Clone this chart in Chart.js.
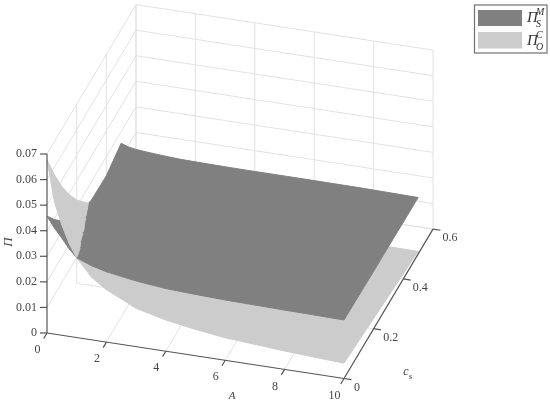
<!DOCTYPE html>
<html>
<head>
<meta charset="utf-8">
<title>Profit surfaces</title>
<script src="https://cdn.jsdelivr.net/npm/chart.js@4"></script>
<style>
  html, body { margin: 0; padding: 0; background: #fff; }
  canvas { display: block; }
</style>
</head>
<body>
<canvas id="surface-chart" width="550" height="408"></canvas>
<script>
// Grid the two surfaces were read on
const aValues = [0, 0.25, 0.5, 0.75, 1, 1.5, 2, 3, 4, 5, 6, 8, 10];
const csValues = [0, 0.05, 0.1, 0.15, 0.2, 0.3, 0.4, 0.5];

// Pi_S^M, one row per cs value
const piSM = [
  [0.0457, 0.0415, 0.0380, 0.0342, 0.0312, 0.0290, 0.0275, 0.0257, 0.0245, 0.0240, 0.0236, 0.0232, 0.0229],
  [0.0395, 0.0365, 0.0335, 0.0288, 0.0270, 0.0266, 0.0261, 0.0251, 0.0241, 0.0237, 0.0234, 0.0230, 0.0228],
  [0.0340, 0.0322, 0.0282, 0.0258, 0.0254, 0.0252, 0.0250, 0.0243, 0.0238, 0.0234, 0.0232, 0.0229, 0.0227],
  [0.0300, 0.0280, 0.0258, 0.0250, 0.0248, 0.0247, 0.0245, 0.0239, 0.0235, 0.0232, 0.0230, 0.0228, 0.0226],
  [0.0265, 0.0252, 0.0248, 0.0246, 0.0245, 0.0243, 0.0240, 0.0235, 0.0232, 0.0230, 0.0229, 0.0227, 0.0225],
  [0.0228, 0.0230, 0.0232, 0.0234, 0.0235, 0.0233, 0.0231, 0.0229, 0.0228, 0.0227, 0.0227, 0.0225, 0.0224],
  [0.0225, 0.0228, 0.0230, 0.0231, 0.0232, 0.0230, 0.0228, 0.0226, 0.0226, 0.0226, 0.0226, 0.0224, 0.0222],
  [0.0255, 0.0245, 0.0240, 0.0237, 0.0235, 0.0231, 0.0228, 0.0226, 0.0225, 0.0225, 0.0225, 0.0224, 0.0221]
];

// Pi_O^C, one row per cs value
const piOC = [
  [0.0677, 0.0517, 0.0431, 0.0362, 0.0312, 0.0245, 0.0205, 0.0150, 0.0122, 0.0103, 0.0088, 0.0072, 0.0060],
  [0.0570, 0.0445, 0.0367, 0.0296, 0.0250, 0.0210, 0.0178, 0.0134, 0.0110, 0.0094, 0.0081, 0.0066, 0.0055],
  [0.0475, 0.0385, 0.0292, 0.0248, 0.0215, 0.0180, 0.0155, 0.0120, 0.0100, 0.0086, 0.0075, 0.0060, 0.0050],
  [0.0395, 0.0310, 0.0256, 0.0224, 0.0193, 0.0155, 0.0134, 0.0104, 0.0087, 0.0075, 0.0066, 0.0054, 0.0045],
  [0.0325, 0.0258, 0.0212, 0.0190, 0.0165, 0.0135, 0.0115, 0.0090, 0.0075, 0.0066, 0.0058, 0.0048, 0.0040],
  [0.0212, 0.0180, 0.0150, 0.0130, 0.0115, 0.0095, 0.0082, 0.0065, 0.0055, 0.0048, 0.0042, 0.0036, 0.0030],
  [0.0130, 0.0115, 0.0100, 0.0086, 0.0075, 0.0062, 0.0055, 0.0043, 0.0037, 0.0032, 0.0029, 0.0024, 0.0020],
  [0.0070, 0.0060, 0.0052, 0.0046, 0.0040, 0.0033, 0.0028, 0.0022, 0.0019, 0.0017, 0.0015, 0.0012, 0.0010]
];

// Axis ticks
const aTicks = [0, 2, 4, 6, 8, 10];
const csTicks = [0, 0.2, 0.4, 0.6];
const piTicks = [0, 0.01, 0.02, 0.03, 0.04, 0.05, 0.06, 0.07];
const aMax = 10, csMax = 0.6, piMax = 0.07;

const darkColor = '#808080';
const lightColor = '#cccccc';
const gridColor = '#e2e2e2';
const axisColor = '#555555';
const textColor = '#444444';
const serif = '"Liberation Serif", serif';

// Fixed view of the 3D box, flattened onto the x/y scales
function project(a, cs, pi) {
  return {
    x: 47 + 29.7 * a + 148.3 * cs,
    y: 333 + 4.55 * a - 249 * cs - 2557 * pi
  };
}

const datasets = [];

function addLine(from, to, color, width) {
  datasets.push({
    data: [project(...from), project(...to)],
    showLine: true,
    borderColor: color,
    borderWidth: width,
    pointRadius: 0,
    fill: false
  });
}

function addPatch(corners, color) {
  if (corners.length < 3) return;
  const pts = corners.map(c => project(c.a, c.cs, c.pi));
  pts.push(pts[0]);
  datasets.push({
    data: pts,
    showLine: true,
    borderColor: color,
    borderWidth: 1,
    backgroundColor: color,
    pointRadius: 0,
    tension: 0,
    fill: 'shape'
  });
}

// Keep the part of a cell where diff has the wanted sign
function clipCell(corners, sign) {
  const out = [];
  corners.forEach((c, i) => {
    const n = corners[(i + 1) % corners.length];
    const d0 = c.diff * sign, d1 = n.diff * sign;
    if (d0 >= 0) out.push(c);
    if ((d0 > 0 && d1 < 0) || (d0 < 0 && d1 > 0)) {
      const t = d0 / (d0 - d1);
      out.push({
        a: c.a + (n.a - c.a) * t,
        cs: c.cs + (n.cs - c.cs) * t,
        pi: c.pi + (n.pi - c.pi) * t,
        diff: 0
      });
    }
  });
  return out;
}

// Walls and floor of the box
aTicks.forEach(a => {
  addLine([a, csMax, 0], [a, csMax, piMax], gridColor, 1);
  if (a > 0) addLine([a, 0, 0], [a, csMax, 0], gridColor, 1);
});
csTicks.forEach(cs => {
  if (cs > 0) {
    addLine([0, cs, 0], [0, cs, piMax], gridColor, 1);
    addLine([0, cs, 0], [aMax, cs, 0], gridColor, 1);
  }
});
piTicks.forEach(pi => {
  addLine([0, csMax, pi], [aMax, csMax, pi], gridColor, 1);
  if (pi > 0) addLine([0, 0, pi], [0, csMax, pi], gridColor, 1);
});

// Surfaces, far cells first: low A and high cs are at the back
for (let i = 0; i < aValues.length - 1; i++) {
  for (let j = csValues.length - 2; j >= 0; j--) {
    const ids = [[i, j], [i + 1, j], [i + 1, j + 1], [i, j + 1]];
    const cell = (rows, other) => ids.map(([p, q]) => ({
      a: aValues[p],
      cs: csValues[q],
      pi: rows[q][p],
      diff: rows[q][p] - other[q][p]
    }));
    const dark = cell(piSM, piOC);
    const light = cell(piOC, piSM);
    addPatch(clipCell(dark, -1), darkColor);
    addPatch(clipCell(light, -1), lightColor);
    addPatch(clipCell(dark, 1), darkColor);
    addPatch(clipCell(light, 1), lightColor);
  }
}

// Axes with their tick marks
addLine([0, 0, 0], [0, 0, piMax], axisColor, 1.2);
addLine([0, 0, 0], [aMax, 0, 0], axisColor, 1.2);
addLine([aMax, 0, 0], [aMax, csMax, 0], axisColor, 1.2);
piTicks.forEach(pi => {
  const p = project(0, 0, pi);
  datasets.push({
    data: [p, { x: p.x - 7, y: p.y }],
    showLine: true, borderColor: axisColor, borderWidth: 1.2, pointRadius: 0
  });
});
aTicks.forEach(a => addLine([a, 0, 0], [a, -0.022, 0], axisColor, 1.2));
csTicks.forEach(cs => addLine([aMax, cs, 0], [aMax + 0.25, cs, 0], axisColor, 1.2));

// Tick labels, axis titles and the legend box
const labelsPlugin = {
  id: 'surfaceLabels',
  afterDraw(chart) {
    const ctx = chart.ctx;
    const sx = chart.scales.x, sy = chart.scales.y;
    const text = (str, x, y, font, align) => {
      ctx.font = font;
      ctx.textAlign = align || 'center';
      ctx.textBaseline = 'middle';
      ctx.fillText(str, sx.getPixelForValue(x), sy.getPixelForValue(y));
    };
    ctx.save();
    ctx.fillStyle = textColor;
    const tickFont = '12px ' + serif;
    piTicks.forEach(pi => {
      const p = project(0, 0, pi);
      text(pi === 0 ? '0' : pi.toFixed(2), p.x - 10, p.y, tickFont, 'right');
    });
    aTicks.forEach(a => {
      const p = project(a, 0, 0);
      text(String(a), p.x - 9.5, p.y + 17, tickFont);
    });
    csTicks.forEach(cs => {
      const p = project(aMax, cs, 0);
      text(cs === 0 ? '0' : cs.toFixed(1), p.x + (cs === 0 ? 13 : 17), p.y + 9, tickFont);
    });

    // Axis titles
    text('A', 232, 396, 'italic 11px ' + serif);
    text('c', 406, 372, 'italic 12px ' + serif);
    text('s', 410.5, 377, 'italic 9px ' + serif);
    ctx.save();
    ctx.translate(sx.getPixelForValue(9), sy.getPixelForValue(242));
    ctx.rotate(-Math.PI / 2);
    ctx.font = 'italic 13px ' + serif;
    ctx.textAlign = 'center';
    ctx.textBaseline = 'middle';
    ctx.fillText('Π', 0, 0);
    ctx.restore();

    // Legend
    ctx.strokeStyle = '#707070';
    ctx.lineWidth = 1.2;
    ctx.strokeRect(474.5, 5, 72.5, 48);
    ctx.fillStyle = darkColor;
    ctx.fillRect(478, 10, 44, 16);
    ctx.fillStyle = lightColor;
    ctx.fillRect(478, 32, 44, 16.5);
    ctx.fillStyle = '#333333';
    text('Π', 527, 18, 'italic 15px ' + serif, 'left');
    text('M', 536, 12, 'italic 10px ' + serif, 'left');
    text('S', 536, 24, 'italic 10px ' + serif, 'left');
    text('Π', 527, 41, 'italic 15px ' + serif, 'left');
    text('C', 536, 35, 'italic 10px ' + serif, 'left');
    text('O', 536, 47, 'italic 10px ' + serif, 'left');
    ctx.restore();
  }
};

// Chart.js paints the first dataset last, so flip the painter order
new Chart(document.getElementById('surface-chart').getContext('2d'), {
  type: 'scatter',
  data: { datasets: datasets.slice().reverse() },
  options: {
    responsive: false,
    animation: false,
    layout: { padding: 0 },
    plugins: {
      legend: { display: false },
      tooltip: { enabled: false },
      filler: { propagate: false }
    },
    scales: {
      x: { type: 'linear', min: 0, max: 550, display: false },
      y: { type: 'linear', min: 0, max: 408, reverse: true, display: false }
    }
  },
  plugins: [labelsPlugin]
});
</script>
</body>
</html>
